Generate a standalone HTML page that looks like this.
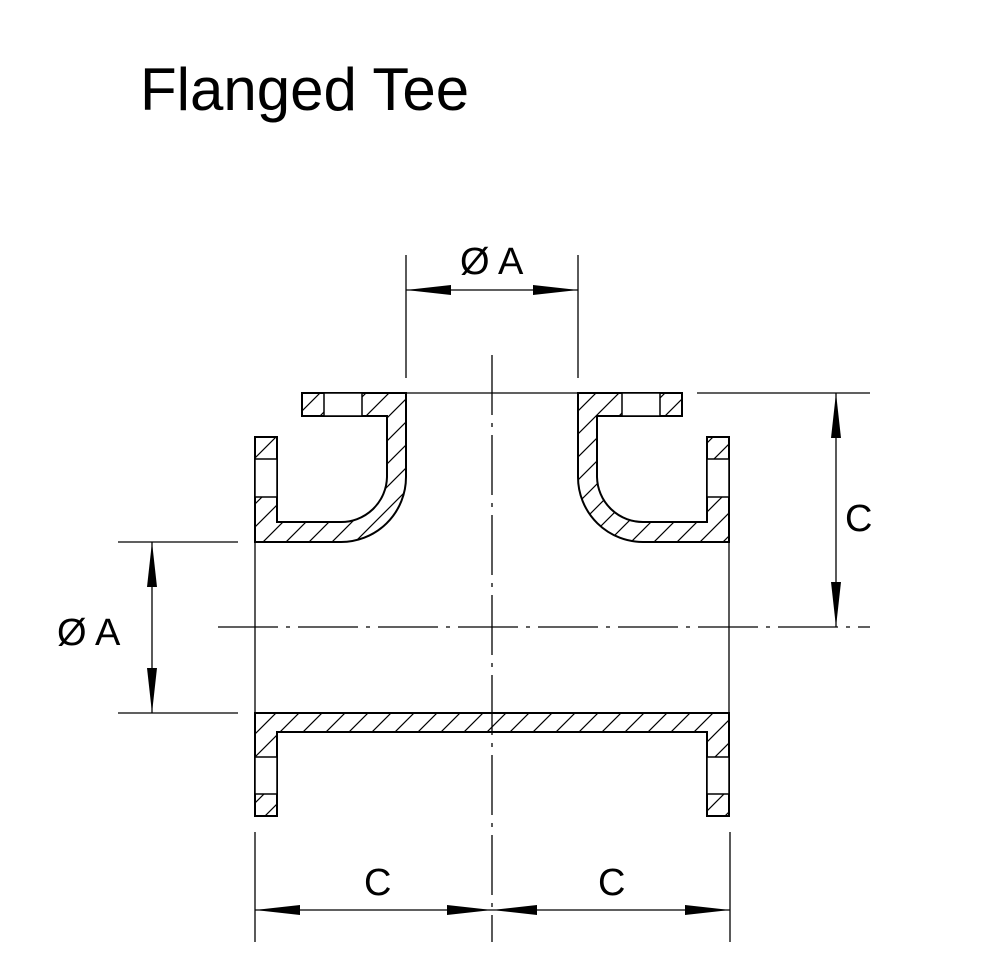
<!DOCTYPE html>
<html><head><style>body{margin:0;background:#fff}svg{display:block}</style></head><body>
<svg width="990" height="966" viewBox="0 0 990 966" xmlns="http://www.w3.org/2000/svg">
<defs>
<pattern id="h" patternUnits="userSpaceOnUse" width="23" height="23">
<path d="M-2,25 L25,-2 M-2,2 L2,-2 M21,25 L25,21" stroke="#000" stroke-width="1.2"/>
</pattern>
</defs>
<text x="140" y="110" font-family="Liberation Sans, sans-serif" font-size="60">Flanged Tee</text>
<g stroke="#000" stroke-width="2" fill="url(#h)">
<path d="M255,437 L277,437 L277,522 L340,522 A46 46 0 0 0 387,477 L387,416 L302,416 L302,393 L406,393 L406,477 A65 65 0 0 1 340,542 L255,542 Z"/>
<path d="M729,437 L707,437 L707,522 L644,522 A46 46 0 0 1 597,477 L597,416 L682,416 L682,393 L578,393 L578,477 A65 65 0 0 0 644,542 L729,542 Z"/>
<path d="M255,713 L729,713 L729,816 L707,816 L707,732 L277,732 L277,816 L255,816 Z"/>
</g>
<g stroke="#000" stroke-width="1.5" fill="#fff">
<rect x="324" y="393" width="38" height="23"/>
<rect x="622" y="393" width="38" height="23"/>
<rect x="255" y="459" width="22" height="38"/>
<rect x="707" y="459" width="22" height="38"/>
<rect x="255" y="757" width="22" height="37"/>
<rect x="707" y="757" width="22" height="37"/>
</g>
<g stroke="#000" stroke-width="1.3" fill="none">
<line x1="255" y1="542" x2="255" y2="713"/>
<line x1="729" y1="542" x2="729" y2="713"/>
<line x1="406" y1="393" x2="578" y2="393"/>
<line x1="697" y1="393" x2="870" y2="393"/>
<line x1="406" y1="255" x2="406" y2="378"/>
<line x1="578" y1="255" x2="578" y2="378"/>
<line x1="406" y1="290" x2="578" y2="290"/>
<line x1="836" y1="393" x2="836" y2="627"/>
<line x1="118" y1="542" x2="238" y2="542"/>
<line x1="118" y1="713" x2="238" y2="713"/>
<line x1="152" y1="542" x2="152" y2="713"/>
<line x1="255" y1="832" x2="255" y2="942"/>
<line x1="730" y1="832" x2="730" y2="942"/>
<line x1="255" y1="910" x2="730" y2="910"/>
<line x1="492" y1="355" x2="492" y2="942" stroke-dasharray="60,8,4,8"/>
<line x1="218" y1="627" x2="870" y2="627" stroke-dasharray="60,8,4,8"/>
</g>
<g fill="#000">
<path d="M406,290 L451,285 L451,295 Z"/>
<path d="M578,290 L533,285 L533,295 Z"/>
<path d="M836,393 L831,438 L841,438 Z"/>
<path d="M836,627 L831,582 L841,582 Z"/>
<path d="M152,542 L147,587 L157,587 Z"/>
<path d="M152,713 L147,668 L157,668 Z"/>
<path d="M255,910 L300,905 L300,915 Z"/>
<path d="M492,910 L447,905 L447,915 Z"/>
<path d="M492,910 L537,905 L537,915 Z"/>
<path d="M730,910 L685,905 L685,915 Z"/>
</g>
<g font-family="Liberation Sans, sans-serif" font-size="38">
<text x="460" y="274">Ø A</text>
<text x="845" y="531">C</text>
<text x="57" y="645">Ø A</text>
<text x="364" y="895">C</text>
<text x="598" y="895">C</text>
</g>
</svg>
</body></html>
